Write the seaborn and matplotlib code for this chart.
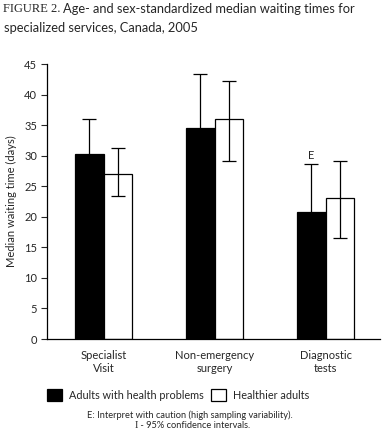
import numpy as np
import pandas as pd
import matplotlib
matplotlib.use("Agg")
import matplotlib.pyplot as plt
import seaborn as sns

# data
services = ["Specialist\nVisit", "Non-emergency\nsurgery", "Diagnostic\ntests"]
groups = ["Adults with health problems", "Healthier adults"]
health_problems = [30.2, 34.5, 20.8]
health_low = [25.0, 27.0, 14.0]
health_high = [36.0, 43.4, 28.7]
healthier = [27.0, 36.0, 23.1]
healthier_low = [23.4, 29.2, 16.6]
healthier_high = [31.2, 42.3, 29.1]
y_ticks = [0, 5, 10, 15, 20, 25, 30, 35, 40, 45]

df = pd.DataFrame({
    "service": services * 2,
    "group": [groups[0]] * 3 + [groups[1]] * 3,
    "days": health_problems + healthier,
    "low": health_low + healthier_low,
    "high": health_high + healthier_high,
})

sns.set_style("white")
plt.rcParams["font.family"] = ["Lato", "DejaVu Sans"]

fig = plt.figure(figsize=(3.83, 4.44), dpi=100)
ax = fig.add_axes([47 / 383, 1 - 339 / 444, 333 / 383, 275 / 444])

sns.barplot(data=df, x="service", y="days", hue="group", order=services,
            hue_order=groups, palette=["black", "white"], edgecolor="black",
            linewidth=0.9, width=0.514, errorbar=None, legend=False, ax=ax)

# confidence intervals at each bar centre
bars = [p for p in ax.patches if p.get_height() > 0]
bars.sort(key=lambda p: p.get_x())
order_idx = []
for i in range(3):
    order_idx += [i, 3 + i]
for p, k in zip(bars, order_idx):
    xc = p.get_x() + p.get_width() / 2
    v = df["days"][k]
    ax.errorbar(xc, v, yerr=[[v - df["low"][k]], [df["high"][k] - v]],
                fmt="none", ecolor="black", elinewidth=0.9, capsize=5,
                capthick=0.9)
    if k == 2:
        ax.text(xc, df["high"][k] + 0.5, "E", ha="center", va="bottom",
                fontsize=8)

ax.set_xlim(-0.51, 2.49)
ax.set_ylim(0, 45)
ax.set_yticks(y_ticks)
ax.tick_params(axis="y", direction="out", length=4, width=0.8, left=True,
               labelsize=8, pad=3)
ax.tick_params(axis="x", length=0, labelsize=8, pad=8)
ax.set_xlabel("")
ax.set_ylabel("Median waiting time (days)", fontsize=8, labelpad=5)
sns.despine(ax=ax)
for s in ["left", "bottom"]:
    ax.spines[s].set_color("black")
    ax.spines[s].set_linewidth(0.9)

# title
t1 = fig.text(3 / 383, 1 - 9 / 444, "FIGURE 2.", family="Liberation Serif",
              fontsize=9, va="center", ha="left")
fig.canvas.draw()
r = fig.canvas.get_renderer()
bb = t1.get_window_extent(r)
fig.text((bb.x1 + 2) / 383, 1 - 9 / 444,
         "Age- and sex-standardized median waiting times for",
         fontsize=9.3, va="center", ha="left")
fig.text(4 / 383, 1 - 28 / 444, "specialized services, Canada, 2005",
         fontsize=9.3, va="center", ha="left")

# legend
handles = [plt.Rectangle((0, 0), 1, 1, facecolor=c, edgecolor="black",
                         linewidth=0.9) for c in ["black", "white"]]
fig.legend(handles, groups, loc="center", bbox_to_anchor=(178 / 383, 1 - 395 / 444),
           ncol=2, frameon=False, fontsize=7.8, handlelength=1.4,
           handleheight=1.2, handletextpad=0.6, columnspacing=0.7)

fig.text(190 / 383, 1 - 415 / 444,
         "E: Interpret with caution (high sampling variability).",
         fontsize=6.7, ha="center", va="center")
t2 = fig.text(194 / 383, 1 - 425 / 444, " - 95% confidence intervals.",
              fontsize=6.7, ha="center", va="center")
fig.canvas.draw()
bb2 = t2.get_window_extent(r)
fig.text(bb2.x0 / 383, 1 - 425 / 444, "I", family="Liberation Serif",
         fontsize=7.5, ha="right", va="center")

fig.savefig("out.png", dpi=100)
